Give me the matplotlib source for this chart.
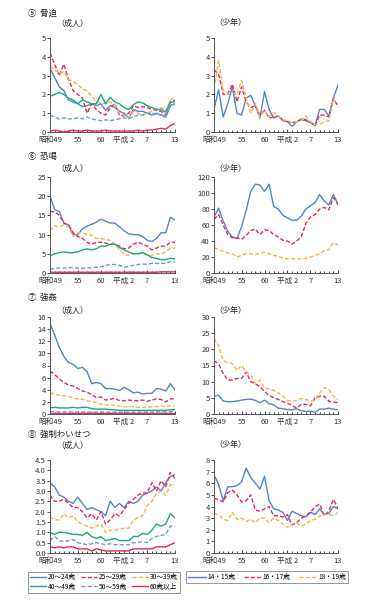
import matplotlib.pyplot as plt
from matplotlib.lines import Line2D

plt.rcParams['font.family'] = ['Noto Sans CJK JP', 'DejaVu Sans']

# years: 昭和49 (1974) - 平成13 (2001)
years = list(range(1974, 2002))
xtick_pos = [1974, 1980, 1985, 1990, 1995, 2001]
xtick_labels = ["昭和49", "55", "60", "平成 2", "7", "13"]

adult_labels = ["20～24歳", "25～29歳", "30～39歳", "40～49歳", "50～59歳", "60歳以上"]
youth_labels = ["14・15歳", "16・17歳", "18・19歳"]

# ⑤ 脅迫
threat_adult = {
    "20～24歳": [3.4, 2.9, 2.4, 2.2, 1.7, 1.6, 1.5, 1.35, 1.4, 1.5, 1.4, 1.5, 1.15, 1.4, 1.3, 1.1, 1.0, 0.75, 1.2, 1.1, 1.1, 1.0, 0.9, 1.0, 0.9, 0.8, 1.4, 1.5],
    "25～29歳": [4.2, 3.6, 3.0, 3.6, 2.8, 2.2, 2.0, 1.8, 1.0, 1.5, 1.2, 1.0, 0.9, 1.3, 1.5, 0.9, 0.85, 1.0, 1.4, 1.3, 1.35, 1.3, 1.2, 1.15, 1.1, 0.9, 1.6, 1.7],
    "30～39歳": [3.5, 3.3, 3.1, 3.2, 2.8, 2.7, 2.5, 2.3, 2.2, 1.9, 1.6, 1.55, 1.5, 1.6, 1.4, 1.0, 0.9, 0.8, 1.1, 1.0, 0.9, 1.0, 1.1, 1.2, 1.3, 1.1, 1.7, 1.85],
    "40～49歳": [1.9, 2.0, 2.1, 2.0, 1.8, 1.7, 1.5, 1.7, 1.6, 1.5, 1.5, 2.0, 1.5, 1.85, 1.6, 1.5, 1.3, 1.2, 1.45, 1.6, 1.55, 1.4, 1.3, 1.2, 1.2, 1.05, 1.6, 1.6],
    "50～59歳": [0.9, 0.8, 0.7, 0.75, 0.7, 0.7, 0.75, 0.7, 0.8, 0.7, 0.65, 0.6, 0.65, 0.6, 0.65, 0.7, 0.75, 0.7, 0.8, 0.9, 0.9, 1.0, 1.0, 0.95, 0.9, 0.85, 1.4, 1.5],
    "60歳以上": [0.05, 0.1, 0.05, 0.0, 0.05, 0.1, 0.05, 0.05, 0.1, 0.05, 0.05, 0.05, 0.1, 0.05, 0.05, 0.05, 0.05, 0.05, 0.05, 0.1, 0.05, 0.1, 0.1, 0.15, 0.2, 0.15, 0.35, 0.45],
}
threat_youth = {
    "14・15歳": [1.2, 2.25, 0.8, 1.5, 2.4, 1.0, 0.9, 1.8, 1.95, 1.4, 0.75, 2.15, 1.2, 0.75, 0.85, 0.6, 0.55, 0.3, 0.55, 0.65, 0.6, 0.5, 0.35, 1.2, 1.2, 0.85, 1.8, 2.5],
    "16・17歳": [3.3, 3.1, 2.0, 2.0, 2.55, 1.6, 2.4, 1.6, 1.3, 1.4, 0.9, 1.15, 0.75, 0.8, 0.85, 0.65, 0.55, 0.5, 0.55, 0.7, 0.65, 0.55, 0.35, 0.9, 0.9, 0.8, 1.8, 1.35],
    "18・19歳": [2.3, 3.8, 2.2, 2.05, 2.1, 2.0, 2.75, 1.8, 1.0, 1.5, 0.8, 1.15, 0.8, 1.05, 0.85, 0.65, 0.6, 0.5, 0.55, 0.65, 0.85, 0.55, 0.4, 0.4, 0.55, 0.6, 1.75, 1.45],
}

# ⑥ 恐喝
extort_adult = {
    "20～24歳": [20, 16.5, 16, 13, 12.5, 10, 10, 11.5, 12.2, 12.7, 13.2, 14, 13.5, 13, 13, 12, 11, 10.2, 10, 10, 9.5, 8.5, 8.2, 9, 10.5, 10.5, 14.5, 13.8],
    "25～29歳": [16, 16, 15, 13, 12.5, 10.5, 9.5, 9, 8, 7.5, 8, 8, 7.8, 7.5, 7.5, 7, 6.3, 6.5, 7.5, 8, 7.5, 7, 6, 6.5, 7, 7, 8, 8],
    "30～39歳": [11, 12.3, 12, 12.5, 12, 9.5, 10.5, 10.5, 10, 9.8, 9, 9, 8.7, 8.5, 7.5, 6, 5, 4.5, 5, 5, 5.2, 4.5, 4.5, 5, 5, 5.5, 6.5, 6.5],
    "40～49歳": [4.5, 5, 5.3, 5.5, 5.3, 5.3, 5.5, 6, 6.3, 6, 6.3, 7, 7, 7.5, 7.5, 6.7, 6, 5.5, 5, 5, 5.3, 4.8, 4, 3.8, 3.5, 3.5, 3.8, 3.7],
    "50～59歳": [1, 1.2, 1.3, 1.3, 1.4, 1.4, 1.3, 1.2, 1.3, 1.4, 1.5, 1.6, 2, 2.2, 2.2, 2, 1.5, 1.7, 2, 2.2, 2.3, 2.3, 2.5, 2.5, 2.5, 2.5, 3, 2.8],
    "60歳以上": [0.2, 0.2, 0.2, 0.2, 0.2, 0.2, 0.2, 0.2, 0.2, 0.2, 0.2, 0.2, 0.2, 0.2, 0.2, 0.2, 0.2, 0.2, 0.2, 0.2, 0.2, 0.2, 0.2, 0.2, 0.3, 0.3, 0.3, 0.3],
}
extort_youth = {
    "14・15歳": [70, 81, 65, 52, 45, 43, 58, 78, 102, 111, 110, 102, 111, 83, 80, 72, 69, 66, 66, 71, 80, 84, 88, 98, 90, 85, 98, 86],
    "16・17歳": [67, 73, 60, 48, 44, 44, 42, 47, 53, 55, 48, 54, 53, 48, 45, 41, 40, 36, 40, 45, 62, 70, 73, 80, 82, 79, 94, 86],
    "18・19歳": [31, 30, 27, 25, 24, 20, 22, 24, 24, 23, 25, 26, 24, 22, 21, 18, 18, 18, 17, 18, 18, 20, 22, 24, 28, 29, 38, 35],
}

# ⑦ 強姦
rape_adult = {
    "20～24歳": [15, 13, 11, 9.5, 8.5, 8.2, 7.5, 7.7, 7, 5, 5.2, 5, 4.2, 4.2, 4.1, 3.9, 4.4, 4, 3.5, 3.6, 3.3, 3.4, 3.4, 4.2, 4.1, 3.8, 5, 4],
    "25～29歳": [7.1, 6.5, 5.8, 5.2, 4.8, 4.6, 4.2, 3.8, 3.6, 3.2, 2.7, 2.8, 2.3, 2.4, 2.6, 2.2, 2.2, 2.3, 2.2, 2.2, 2.3, 2.1, 2.3, 2.5, 2.4, 2.0, 2.5, 2.5],
    "30～39歳": [3.5, 3.3, 3.1, 3.0, 2.9, 2.6, 2.5, 2.4, 2.2, 2.0, 1.9, 1.6, 1.5, 1.5, 1.4, 1.3, 1.2, 1.2, 1.2, 1.1, 1.1, 1.1, 1.2, 1.2, 1.3, 1.2, 1.4, 1.3],
    "40～49歳": [1.0, 1.1, 1.0, 1.0, 1.0, 1.1, 1.0, 1.1, 1.1, 0.9, 0.8, 0.8, 0.8, 0.7, 0.7, 0.6, 0.6, 0.6, 0.6, 0.6, 0.6, 0.6, 0.6, 0.6, 0.6, 0.6, 0.7, 0.7],
    "50～59歳": [0.4, 0.4, 0.35, 0.35, 0.35, 0.35, 0.35, 0.35, 0.35, 0.3, 0.3, 0.3, 0.3, 0.3, 0.3, 0.3, 0.3, 0.3, 0.3, 0.3, 0.3, 0.3, 0.3, 0.35, 0.35, 0.35, 0.4, 0.4],
    "60歳以上": [0.1, 0.1, 0.1, 0.1, 0.1, 0.1, 0.1, 0.1, 0.1, 0.1, 0.1, 0.1, 0.1, 0.1, 0.1, 0.1, 0.1, 0.1, 0.1, 0.1, 0.1, 0.1, 0.1, 0.1, 0.1, 0.1, 0.1, 0.1],
}
rape_youth = {
    "14・15歳": [5.5, 5.8, 4, 3.8, 3.8, 4, 4.3, 4.5, 4.6, 4.2, 3.5, 4.3, 3.2, 2.8, 1.8, 1.6, 1.4, 1.3, 1.6, 1.0, 0.8, 0.9, 0.5, 1.5, 1.5, 1.8, 1.5, 1.3],
    "16・17歳": [16.5, 15.5, 12.5, 10.5, 10.5, 11, 11, 13, 10, 9.3, 8.5, 7, 5.8, 5, 4.5, 3.8, 3.3, 2.7, 1.8, 3, 3, 2.5, 5, 5.5, 5.5, 4, 3.7, 3.5],
    "18・19歳": [23.5, 21, 16.5, 16, 15.5, 13.5, 15, 13, 12, 9.5, 10.5, 8, 7.8, 7.3, 6.5, 5.5, 4.2, 4, 4.2, 4.8, 4.5, 4, 4.2, 6.5, 8.2, 7.5, 5.5, 4.5],
}

# ⑧ 強制わいせつ
indecent_adult = {
    "20～24歳": [3.4, 3.2, 2.8, 2.7, 2.5, 2.4, 2.7, 2.4, 2.1, 2.2, 2.1, 2.0, 1.8, 2.5, 2.2, 2.4, 2.2, 2.5, 2.4, 2.5, 2.8, 2.9, 3.0, 3.2, 3.0, 3.4, 3.7, 3.8],
    "25～29歳": [2.8, 2.5, 2.5, 2.6, 2.4, 2.2, 2.2, 2.0, 1.7, 1.9, 1.6, 2.0, 1.4, 1.6, 1.9, 1.8, 2.1, 2.4, 2.6, 2.8, 2.9, 2.9, 3.4, 3.0, 3.5, 3.2, 3.9, 3.6],
    "30～39歳": [1.75, 1.6, 1.6, 1.9, 1.7, 1.8, 1.5, 1.4, 1.3, 1.2, 1.3, 1.4, 1.0, 1.1, 1.1, 1.15, 1.2, 1.2, 1.6, 1.7, 1.8, 2.3, 2.5, 2.9, 3.0, 2.8, 3.3, 3.3],
    "40～49歳": [1.0, 0.9, 1.0, 1.0, 0.95, 0.9, 0.9, 0.85, 1.0, 0.8, 0.7, 0.8, 0.6, 0.65, 0.7, 0.6, 0.6, 0.6, 0.8, 0.8, 0.95, 0.9, 1.1, 1.4, 1.3, 1.4, 1.9, 1.7],
    "50～59歳": [0.6, 0.8, 0.6, 0.55, 0.6, 0.65, 0.5, 0.45, 0.4, 0.45, 0.5, 0.45, 0.4, 0.45, 0.4, 0.4, 0.4, 0.4, 0.5, 0.5, 0.55, 0.5, 0.7, 0.8, 0.85, 0.9, 1.3, 1.3],
    "60歳以上": [0.3, 0.25, 0.3, 0.25, 0.3, 0.3, 0.2, 0.2, 0.2, 0.1, 0.2, 0.15, 0.1, 0.1, 0.1, 0.1, 0.1, 0.1, 0.2, 0.2, 0.2, 0.2, 0.2, 0.3, 0.3, 0.3, 0.4, 0.5],
}
indecent_youth = {
    "14・15歳": [6.7, 5.9, 4.5, 5.7, 5.7, 5.8, 6.1, 7.3, 6.5, 6.0, 5.5, 6.6, 4.5, 3.8, 3.7, 3.5, 2.8, 3.6, 3.4, 3.2, 3.1, 3.5, 3.3, 3.8, 3.3, 3.4, 4.0, 3.8],
    "16・17歳": [4.7, 4.6, 4.4, 5.2, 5.4, 5.0, 4.4, 4.5, 5.0, 3.7, 3.6, 3.8, 4.0, 3.2, 3.2, 3.1, 3.3, 2.4, 2.6, 3.0, 3.2, 3.5, 4.0, 4.2, 3.2, 3.6, 4.6, 3.9],
    "18・19歳": [3.4, 3.3, 2.9, 2.8, 3.5, 2.9, 3.0, 2.7, 2.9, 2.6, 3.0, 3.0, 2.6, 3.0, 2.8, 2.5, 2.2, 2.5, 2.6, 2.3, 2.5, 2.8, 2.9, 3.2, 3.3, 3.3, 3.2, 3.5],
}

blue = '#4f86c6'
red = '#e8265e'
orange = '#f5b350'
green = '#1aa97c'
lblue = '#6f9bd6'
dash = (0, (3, 1.5))
styles = {
    "20～24歳": (blue, '-'),
    "25～29歳": (red, dash),
    "30～39歳": (orange, dash),
    "40～49歳": (green, '-'),
    "50～59歳": (lblue, dash),
    "60歳以上": (red, '-'),
    "14・15歳": (blue, '-'),
    "16・17歳": (red, dash),
    "18・19歳": (orange, dash),
}

fs = 5.5
axis_col = '#555555'


def draw(ax, data, ymax, ystep, fmt=None):
    for name, vals in data.items():
        c, ls = styles[name]
        ax.plot(years, vals, color=c, linestyle=ls, linewidth=1.0)
    ax.set_xlim(1974, 2001)
    ax.set_ylim(0, ymax)
    yt = [i * ystep for i in range(int(round(ymax / ystep)) + 1)]
    ax.set_yticks(yt)
    if fmt:
        ax.set_yticklabels([fmt.format(v) for v in yt])
    ax.set_xticks(xtick_pos)
    ax.set_xticklabels(xtick_labels)
    ax.set_xticks(years, minor=True)
    for s in ['top', 'right']:
        ax.spines[s].set_visible(False)
    for s in ['left', 'bottom']:
        ax.spines[s].set_color(axis_col)
        ax.spines[s].set_linewidth(0.7)
    ax.tick_params(axis='both', labelsize=fs, colors='#333333', length=2, width=0.6, pad=1)
    ax.tick_params(axis='x', which='both', direction='in', pad=3)
    ax.tick_params(axis='x', which='minor', length=1.5, width=0.5)
    ax.tick_params(axis='y', direction='out')


fig = plt.figure(figsize=(3.68, 6.0), dpi=100)

W, H = 368.0, 600.0


def add_ax(x0, x1, ytop, ybot):
    return fig.add_axes([x0 / W, 1 - ybot / H, (x1 - x0) / W, (ybot - ytop) / H])


panels = [
    ("⑤  脅迫", threat_adult, threat_youth, (5, 1, None), (5, 1, None), 38, 132, 13, 23),
    ("⑥  恐喝", extort_adult, extort_youth, (25, 5, None), (120, 20, None), 177, 273, 157, 168),
    ("⑦  強姦", rape_adult, rape_youth, (16, 2, None), (30, 5, None), 317, 414, 297, 310),
    ("⑧  強制わいせつ", indecent_adult, indecent_youth, (4.5, 0.5, "{:.1f}"), (8, 1, None), 460, 553, 434, 445),
]

for title, adata, ydata, aopt, yopt, ytop, ybot, ty, sy in panels:
    ax1 = add_ax(50, 175, ytop, ybot)
    draw(ax1, adata, *aopt)
    ax2 = add_ax(214, 338, ytop, ybot)
    draw(ax2, ydata, *yopt)
    fig.text(28 / W, 1 - ty / H, title, fontsize=6, va='center', ha='left', color='#222222')
    fig.text(56 / W, 1 - sy / H, "（成人）", fontsize=5.8, va='center', ha='left', color='#222222')
    fig.text(214 / W, 1 - sy / H, "（少年）", fontsize=5.8, va='center', ha='left', color='#222222')

# legends
lfs = 4.8
ah = [Line2D([], [], color=styles[n][0], linestyle=styles[n][1], linewidth=1.0) for n in adult_labels]
order = [0, 3, 1, 4, 2, 5]
leg1 = fig.legend([ah[i] for i in order], [adult_labels[i] for i in order], ncol=3,
                  loc='center', bbox_to_anchor=(104 / W, 1 - 582 / H), fontsize=lfs,
                  frameon=True, fancybox=False, handlelength=2.4, columnspacing=0.7,
                  handletextpad=0.3, labelspacing=0.15, borderpad=0.3, borderaxespad=0)
leg1.get_frame().set_edgecolor('#666666')
leg1.get_frame().set_linewidth(0.6)

yh = [Line2D([], [], color=styles[n][0], linestyle=styles[n][1], linewidth=1.0) for n in youth_labels]
leg2 = fig.legend(yh, youth_labels, ncol=3, loc='center', bbox_to_anchor=(267 / W, 1 - 577 / H),
                  fontsize=lfs, frameon=True, fancybox=False, handlelength=2.6, columnspacing=1.2,
                  handletextpad=0.3, borderpad=0.3, borderaxespad=0)
leg2.get_frame().set_edgecolor('#666666')
leg2.get_frame().set_linewidth(0.6)

fig.savefig("out.png", dpi=100)
